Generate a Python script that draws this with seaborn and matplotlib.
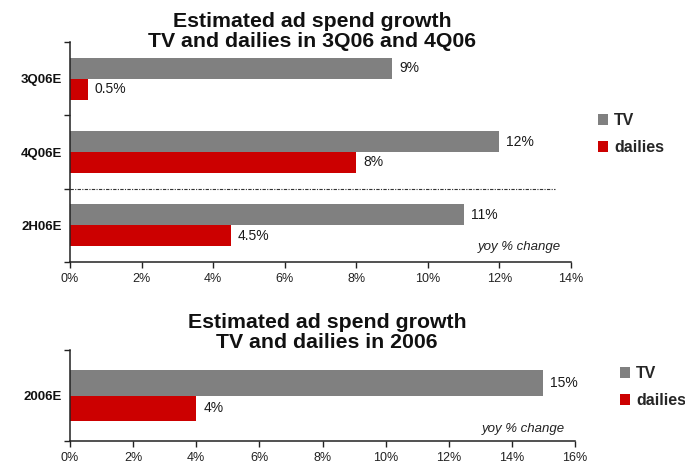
import matplotlib
matplotlib.use("Agg")
import matplotlib.pyplot as plt
import seaborn as sns
import pandas as pd
from matplotlib.ticker import FuncFormatter, FixedLocator
from matplotlib.patches import Patch

# Quarterly / half-year estimates (yoy % change)
periods_q = ["3Q06E", "4Q06E", "2H06E"]
tv_q = [9, 12, 11]
dailies_q = [0.5, 8, 4.5]
tv_q_labels = ["9%", "12%", "11%"]
dailies_q_labels = ["0.5%", "8%", "4.5%"]

# Full-year estimate
periods_y = ["2006E"]
tv_y = [15]
dailies_y = [4]
tv_y_labels = ["15%"]
dailies_y_labels = ["4%"]

media = ["TV", "dailies"]
colors = {"TV": "#808080", "dailies": "#CC0000"}

sns.set_theme(style="white")
plt.rcParams["font.family"] = ["Liberation Sans", "DejaVu Sans"]

W, H = 685, 466
fig = plt.figure(figsize=(W / 100, H / 100), dpi=100)


def frame(periods, tv, dailies):
    return pd.DataFrame({
        "period": periods * 2,
        "growth": list(tv) + list(dailies),
        "media": ["TV"] * len(periods) + ["dailies"] * len(periods),
    })


def draw(ax, periods, tv, dailies, tv_labels, d_labels, xmax, title, title_x, title_y):
    df = frame(periods, tv, dailies)
    sns.barplot(data=df, y="period", x="growth", hue="media", hue_order=media,
                palette=colors, orient="h", width=0.57, ax=ax, legend=False,
                saturation=1, errorbar=None, linewidth=0, edgecolor="none")
    n = len(periods)
    ax.set_ylim(n - 0.5, -0.5)
    ax.set_xlim(0, xmax)
    ax.set_xlabel("")
    ax.set_ylabel("")
    for cont, labs in zip(ax.containers, [tv_labels, d_labels]):
        ax.bar_label(cont, labels=labs, padding=5, fontsize=10, color="#1a1a1a")
    ax.xaxis.set_major_locator(FixedLocator(list(range(0, xmax + 1, 2))))
    ax.xaxis.set_major_formatter(FuncFormatter(lambda v, p: f"{v:.0f}%"))
    ax.tick_params(axis="x", bottom=True, length=4, width=1, color="#222222",
                   labelsize=9, labelcolor="#222222", pad=4, direction="out")
    ax.set_yticks(range(n))
    ax.set_yticklabels(periods, fontweight="bold", fontsize=9.5)
    ax.yaxis.set_minor_locator(FixedLocator([i - 0.5 for i in range(n + 1)]))
    ax.tick_params(axis="y", which="major", left=False, length=0, pad=6, labelcolor="#111111")
    ax.tick_params(axis="y", which="minor", left=True, length=4, width=1, color="#222222",
                   direction="out")
    for s in ["top", "right"]:
        ax.spines[s].set_visible(False)
    for s in ["left", "bottom"]:
        ax.spines[s].set_color("#222222")
        ax.spines[s].set_linewidth(1.1)
    ax.text(0.98, 0.04 if n > 1 else 0.07, "yoy % change", transform=ax.transAxes,
            ha="right", va="bottom", style="italic", fontsize=9.5, color="#222222")
    fig.text(title_x, title_y, title, ha="center", va="top", fontsize=15.3,
             fontweight="bold", linespacing=1.08, color="#111111")


# Top panel
ax1 = fig.add_axes([70 / W, 1 - 262 / H, 501 / W, 220 / H])
draw(ax1, periods_q, tv_q, dailies_q, tv_q_labels, dailies_q_labels, 14,
     "Estimated ad spend growth\nTV and dailies in 3Q06 and 4Q06", 312 / W, 1 - 12 / H)
ax1.axhline(1.5, xmin=0, xmax=(555 - 70) / 501, color="#333333", lw=0.8,
            linestyle=(0, (3, 1.2, 1, 1.2)))

# Bottom panel
ax2 = fig.add_axes([70 / W, 1 - 441 / H, 505 / W, 91 / H])
draw(ax2, periods_y, tv_y, dailies_y, tv_y_labels, dailies_y_labels, 16,
     "Estimated ad spend growth\nTV and dailies in 2006", 327 / W, 1 - 313 / H)

# Legends
handles = [Patch(facecolor=colors[m], edgecolor="none") for m in media]
for (lx, ly) in [(598 / W, 1 - 113 / H), (620 / W, 1 - 366 / H)]:
    fig.legend(handles, media, loc="upper left", bbox_to_anchor=(lx, ly),
               frameon=False, handlelength=0.65, handleheight=0.65,
               handletextpad=0.35, labelspacing=0.75, borderaxespad=0,
               borderpad=0, prop={"weight": "bold", "size": 11.5})

fig.savefig("out.png", dpi=100, facecolor="white")
